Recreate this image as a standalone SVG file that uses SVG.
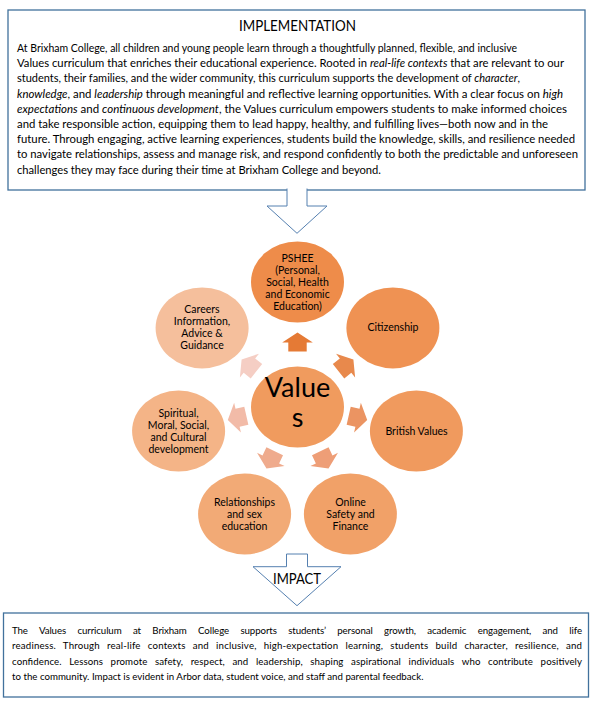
<svg xmlns="http://www.w3.org/2000/svg" width="594" height="702" viewBox="0 0 594 702">
<defs>
<style>
.box{fill:#fff;stroke:#41719C;stroke-width:1.3}
.bigarrow{fill:#fff;stroke:#5580B0;stroke-width:1}
.t{font-family:Lato,"Liberation Sans",sans-serif;font-size:10.8px;fill:#000}
.b{font-size:9.7px}
.i{font-style:italic}
.h{font-family:Lato,"Liberation Sans",sans-serif;font-size:14.5px;fill:#000;text-anchor:middle}
.n{font-family:Lato,"Liberation Sans",sans-serif;font-size:10.5px;fill:#000;text-anchor:middle}
.v{font-size:27px}
</style>
<path id="arr" d="M0,-9.5 L15.3,0.5 L9.2,0.5 L9.2,9.5 L-9.2,9.5 L-9.2,0.5 L-15.3,0.5 Z"/>
</defs>
<rect width="594" height="702" fill="#fff"/>

<g id="implementation">
<rect class="box" x="8" y="10" width="577" height="180"/>
<text class="h" x="297.5" y="30.5" textLength="117" lengthAdjust="spacingAndGlyphs">IMPLEMENTATION</text>
<text class="t" x="17" y="52" textLength="500" lengthAdjust="spacingAndGlyphs">At Brixham College, all children and young people learn through a thoughtfully planned, flexible, and inclusive</text>
<text class="t" x="17" y="67.2" textLength="547" lengthAdjust="spacingAndGlyphs">Values curriculum that enriches their educational experience. Rooted in <tspan class="i">real-life contexts</tspan> that are relevant to our</text>
<text class="t" x="17" y="82.4" textLength="503" lengthAdjust="spacingAndGlyphs">students, their families, and the wider community, this curriculum supports the development of <tspan class="i">character</tspan>,</text>
<text class="t" x="17" y="97.6" textLength="546" lengthAdjust="spacingAndGlyphs"><tspan class="i">knowledge</tspan>, and <tspan class="i">leadership</tspan> through meaningful and reflective learning opportunities. With a clear focus on <tspan class="i">high</tspan></text>
<text class="t" x="17" y="112.8" textLength="550" lengthAdjust="spacingAndGlyphs"><tspan class="i">expectations</tspan> and <tspan class="i">continuous development</tspan>, the Values curriculum empowers students to make informed choices</text>
<text class="t" x="17" y="128" textLength="531" lengthAdjust="spacingAndGlyphs">and take responsible action, equipping them to lead happy, healthy, and fulfilling lives—both now and in the</text>
<text class="t" x="17" y="143.2" textLength="558" lengthAdjust="spacingAndGlyphs">future. Through engaging, active learning experiences, students build the knowledge, skills, and resilience needed</text>
<text class="t" x="17" y="158.4" textLength="561" lengthAdjust="spacingAndGlyphs">to navigate relationships, assess and manage risk, and respond confidently to both the predictable and unforeseen</text>
<text class="t" x="17" y="173.6" textLength="364" lengthAdjust="spacingAndGlyphs">challenges they may face during their time at Brixham College and beyond.</text>
</g>

<g id="arrow-down-top">
<path class="bigarrow" d="M287,188.5 V206 H267 L297,233.3 L327,206 H307 V188.5"/>
</g>

<g id="connectors">
<use href="#arr" fill="#E57A35" transform="translate(297.5,342) rotate(0)"/>
<use href="#arr" fill="#E8894C" transform="translate(345.97,365.34) rotate(51.43)"/>
<use href="#arr" fill="#EB9462" transform="translate(357.94,417.8) rotate(102.86)"/>
<use href="#arr" fill="#EE9E77" transform="translate(324.4,459.86) rotate(154.29)"/>
<use href="#arr" fill="#EFAB8D" transform="translate(270.6,459.86) rotate(205.71)"/>
<use href="#arr" fill="#F2BBA8" transform="translate(237.06,417.8) rotate(257.14)"/>
<use href="#arr" fill="#F5CEC4" transform="translate(249.03,365.34) rotate(308.57)"/>
</g>

<g id="values">
<ellipse cx="297.5" cy="407" rx="46.5" ry="40.5" fill="#F09B5E"/>
<text class="n v" x="297.5" y="397">Value</text>
<text class="n v" x="297.5" y="427">s</text>
</g>

<g id="pshee">
<ellipse cx="297.5" cy="282" rx="46.5" ry="40.5" fill="#EE8C4A"/>
<text class="n" x="297.5" y="261.5">PSHEE</text>
<text class="n" x="297.5" y="273.5">(Personal,</text>
<text class="n" x="297.5" y="285.5">Social, Health</text>
<text class="n" x="297.5" y="297.5">and Economic</text>
<text class="n" x="297.5" y="309.5">Education)</text>
</g>

<g id="citizenship">
<ellipse cx="392.9" cy="327.9" rx="46.5" ry="40.5" fill="#EF9253"/>
<text class="n" x="393" y="331">Citizenship</text>
</g>

<g id="british-values">
<ellipse cx="416.4" cy="431.1" rx="46.5" ry="40.5" fill="#F09A5E"/>
<text class="n" x="416.5" y="434.5">British Values</text>
</g>

<g id="online-safety">
<ellipse cx="350.4" cy="513.9" rx="46.5" ry="40.5" fill="#F1A168"/>
<text class="n" x="350.5" y="505.5">Online</text>
<text class="n" x="350.5" y="517.5">Safety and</text>
<text class="n" x="350.5" y="529.5">Finance</text>
</g>

<g id="relationships">
<ellipse cx="244.6" cy="513.9" rx="46.5" ry="40.5" fill="#F2AA76"/>
<text class="n" x="244.5" y="505.5">Relationships</text>
<text class="n" x="244.5" y="517.5">and sex</text>
<text class="n" x="244.5" y="529.5">education</text>
</g>

<g id="smsc">
<ellipse cx="178.6" cy="431.1" rx="46.5" ry="40.5" fill="#F4B487"/>
<text class="n" x="178.5" y="416.5">Spiritual,</text>
<text class="n" x="178.5" y="428.5">Moral, Social,</text>
<text class="n" x="178.5" y="440.5">and Cultural</text>
<text class="n" x="178.5" y="452.5">development</text>
</g>

<g id="careers">
<ellipse cx="202.1" cy="327.9" rx="46.5" ry="40.5" fill="#F5BF9C"/>
<text class="n" x="202" y="313">Careers</text>
<text class="n" x="202" y="325">Information,</text>
<text class="n" x="202" y="337">Advice &amp;</text>
<text class="n" x="202" y="349">Guidance</text>
</g>

<g id="impact-arrow">
<path class="bigarrow" d="M286.5,554 H307.5 V566.7 H341 L297,605.7 L253,566.7 H286.5 Z"/>
<text class="h" x="297" y="583.5" textLength="48" lengthAdjust="spacingAndGlyphs">IMPACT</text>
</g>

<g id="impact">
<rect class="box" x="3.5" y="613" width="585" height="84"/>
<text class="t b" x="12" y="634" word-spacing="9" textLength="570" lengthAdjust="spacing">The Values curriculum at Brixham College supports students’ personal growth, academic engagement, and life</text>
<text class="t b" x="12" y="649.3" word-spacing="4.5" textLength="570" lengthAdjust="spacing">readiness. Through real-life contexts and inclusive, high-expectation learning, students build character, resilience, and</text>
<text class="t b" x="12" y="664.6" word-spacing="5" textLength="570" lengthAdjust="spacing">confidence. Lessons promote safety, respect, and leadership, shaping aspirational individuals who contribute positively</text>
<text class="t b" x="12" y="680">to the community. Impact is evident in Arbor data, student voice, and staff and parental feedback.</text>
</g>
</svg>
